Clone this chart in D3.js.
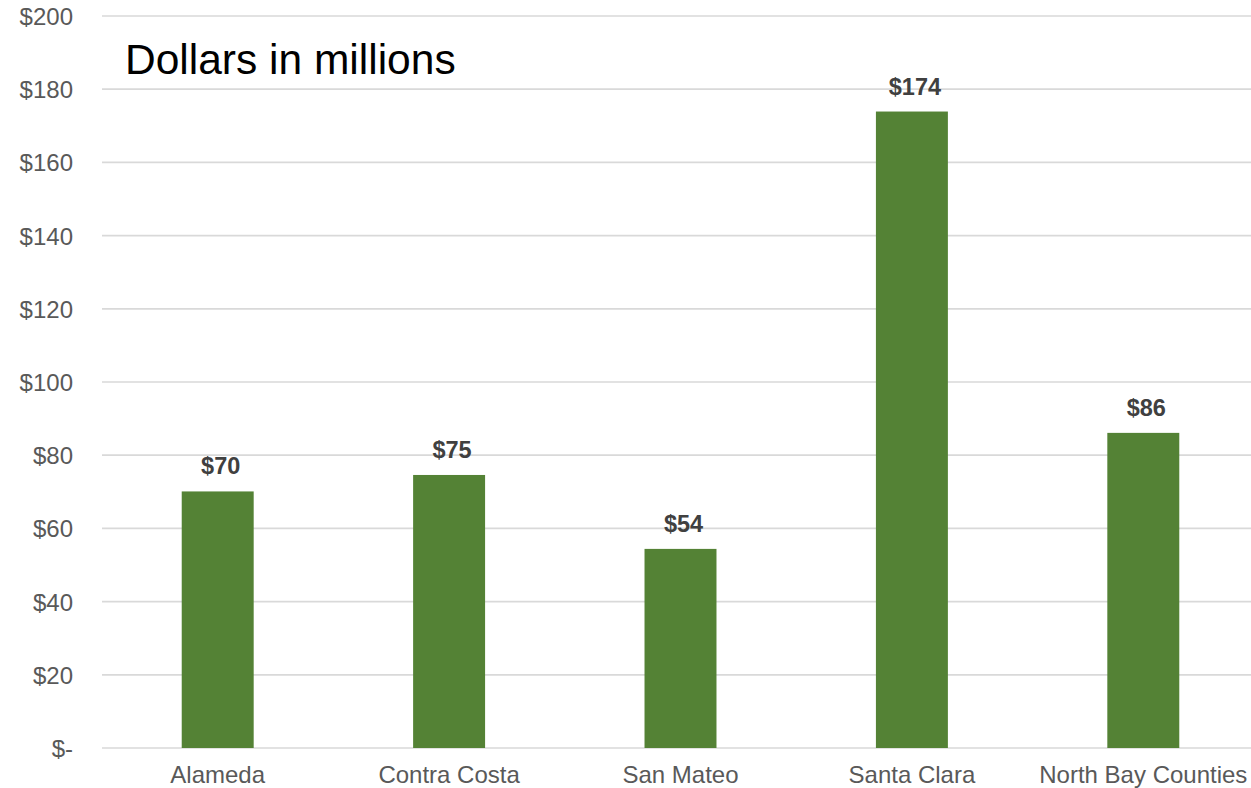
<!DOCTYPE html>
<html>
<head>
<meta charset="utf-8">
<script src="https://cdn.jsdelivr.net/npm/d3@7"></script>
<style>
  html, body { margin: 0; padding: 0; background: #ffffff; }
  svg { display: block; }
</style>
</head>
<body>
<svg id="chart" width="1251" height="788"></svg>
<script>
const categories = ["Alameda", "Contra Costa", "San Mateo", "Santa Clara", "North Bay Counties"];
const values = [70.1, 74.6, 54.4, 173.9, 86.1];
const valueLabels = ["$70", "$75", "$54", "$174", "$86"];
const yTicks = [0, 20, 40, 60, 80, 100, 120, 140, 160, 180, 200];
const yTickLabels = ["$-", "$20", "$40", "$60", "$80", "$100", "$120", "$140", "$160", "$180", "$200"];
const title = "Dollars in millions";

const svg = d3.select("#chart");
const font = "'Liberation Sans', Arial, sans-serif";

const x = d3.scaleBand()
  .domain(categories)
  .range([102, 1259])
  .paddingInner(0.689)
  .paddingOuter(0.3445);

const y = d3.scaleLinear()
  .domain([0, 200])
  .range([748, 16]);

// gridlines
svg.append("g")
  .selectAll("line")
  .data(yTicks)
  .join("line")
  .attr("x1", 102)
  .attr("x2", 1259)
  .attr("y1", d => y(d))
  .attr("y2", d => y(d))
  .attr("stroke", "#d9d9d9")
  .attr("stroke-width", 1.7);

// y axis labels
const yAxis = d3.axisLeft(y)
  .tickValues(yTicks)
  .tickFormat((d, i) => yTickLabels[i])
  .tickSize(0)
  .tickPadding(0);
const yg = svg.append("g")
  .attr("transform", "translate(73,0)")
  .call(yAxis);
yg.select(".domain").remove();
yg.selectAll("text")
  .attr("font-family", font)
  .attr("font-size", 24)
  .attr("fill", "#595959")
  .attr("dy", "0.35em");

// bars
svg.append("g")
  .selectAll("rect")
  .data(categories)
  .join("rect")
  .attr("x", d => x(d))
  .attr("width", x.bandwidth())
  .attr("y", (d, i) => y(values[i]))
  .attr("height", (d, i) => y(0) - y(values[i]))
  .attr("fill", "#548235");

// data labels
svg.append("g")
  .selectAll("text")
  .data(categories)
  .join("text")
  .attr("x", d => x(d) + x.bandwidth() / 2 + 3)
  .attr("y", (d, i) => y(values[i]) - 17)
  .attr("text-anchor", "middle")
  .attr("font-family", font)
  .attr("font-size", 23.5)
  .attr("font-weight", "bold")
  .attr("fill", "#404040")
  .text((d, i) => valueLabels[i]);

// x axis labels
const xAxis = d3.axisBottom(x).tickSize(0).tickPadding(0);
const xg = svg.append("g")
  .attr("transform", "translate(0,748)")
  .call(xAxis);
xg.select(".domain").remove();
xg.selectAll("text")
  .attr("font-family", font)
  .attr("font-size", 24)
  .attr("fill", "#595959")
  .attr("dy", null)
  .attr("y", 35);

// title
svg.append("text")
  .attr("x", 125)
  .attr("y", 74)
  .attr("font-family", font)
  .attr("font-size", 42.5)
  .attr("fill", "#000000")
  .text(title);
</script>
</body>
</html>
